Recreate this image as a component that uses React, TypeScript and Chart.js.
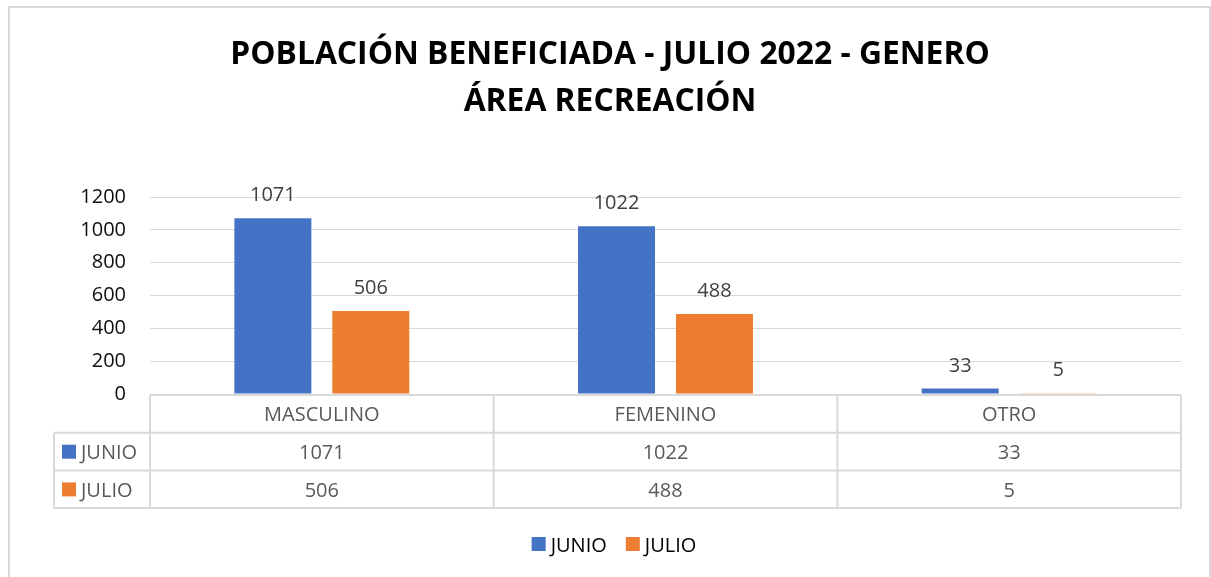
import React, { useEffect, useRef } from "react";
import { Chart, registerables } from "chart.js";

Chart.register(...registerables);

const categories = ["MASCULINO", "FEMENINO", "OTRO"];
const seriesNames = ["JUNIO", "JULIO"];
const junioValues = [1071, 1022, 33];
const julioValues = [506, 488, 5];
const seriesColors = ["#4472C4", "#ED7D31"];
const titleLines = ["POBLACIÓN BENEFICIADA - JULIO 2022 - GENERO", "ÁREA RECREACIÓN"];
const yMin = 0;
const yMax = 1200;
const yStep = 200;

const FONT = "'Open Sans', 'DejaVu Sans', sans-serif";
const W = 1211;
const H = 577;

const customDraw = {
  id: "customDraw",
  beforeDraw(chart: any) {
    const ctx = chart.ctx;
    ctx.save();
    ctx.fillStyle = "#ffffff";
    ctx.fillRect(0, 0, chart.width, chart.height);
    ctx.strokeStyle = "#d9d9d9";
    ctx.lineWidth = 2;
    ctx.strokeRect(9, 7, 1201, 600);
    ctx.restore();
  },
  afterDatasetsDraw(chart: any) {
    const ctx = chart.ctx;
    const area = chart.chartArea;
    const xScale = chart.scales.x;
    ctx.save();

    // Title
    ctx.fillStyle = "#000000";
    ctx.font = `bold 31.8px ${FONT}`;
    ctx.textAlign = "center";
    ctx.textBaseline = "alphabetic";
    ctx.fillText(titleLines[0], 610, 64);
    ctx.fillText(titleLines[1], 610, 111);

    // Data labels
    ctx.font = `20px ${FONT}`;
    ctx.fillStyle = "#404040";
    chart.data.datasets.forEach((ds: any, di: number) => {
      const meta = chart.getDatasetMeta(di);
      meta.data.forEach((bar: any, j: number) => {
        ctx.fillText(String(ds.data[j]), bar.x, bar.y - 17);
      });
    });

    // Data table
    const n = categories.length;
    const catW = (area.right - area.left) / n;
    const top = area.bottom + 1;
    const rowH = 37.7;
    const leftCol = 54;
    const bottom = top + rowH * 3;
    ctx.strokeStyle = "#d9d9d9";
    ctx.lineWidth = 2;
    ctx.beginPath();
    ctx.moveTo(area.left, top);
    ctx.lineTo(area.right, top);
    for (let r = 1; r <= 3; r++) {
      ctx.moveTo(leftCol, top + rowH * r);
      ctx.lineTo(area.right, top + rowH * r);
    }
    ctx.moveTo(leftCol, top + rowH);
    ctx.lineTo(leftCol, bottom);
    for (let c = 0; c <= n; c++) {
      const x = area.left + catW * c;
      ctx.moveTo(x, top);
      ctx.lineTo(x, bottom);
    }
    ctx.stroke();

    ctx.fillStyle = "#595959";
    ctx.font = `20px ${FONT}`;
    ctx.textAlign = "center";
    categories.forEach((cat, i) => {
      const cx = xScale.getPixelForValue(i);
      ctx.fillText(cat, cx, top + 26);
    });
    chart.data.datasets.forEach((ds: any, di: number) => {
      const baseY = top + rowH * (di + 1) + 26.5;
      ds.data.forEach((v: number, i: number) => {
        const cx = xScale.getPixelForValue(i);
        ctx.fillStyle = "#595959";
        ctx.textAlign = "center";
        ctx.fillText(String(v), cx, baseY);
      });
      ctx.fillStyle = ds.backgroundColor;
      ctx.fillRect(62, top + rowH * (di + 1) + 12, 14, 14);
      ctx.fillStyle = "#595959";
      ctx.textAlign = "left";
      ctx.fillText(ds.label, 81, baseY);
    });

    // Legend
    ctx.font = `20px ${FONT}`;
    const box = 14;
    const gap = 5;
    const spacing = 19;
    const widths = chart.data.datasets.map((ds: any) => ctx.measureText(ds.label).width);
    const total = widths.reduce((a: number, w: number) => a + box + gap + w, 0) + spacing * (widths.length - 1);
    let lx = 614 - total / 2;
    const ly = 544;
    chart.data.datasets.forEach((ds: any, di: number) => {
      ctx.fillStyle = ds.backgroundColor;
      ctx.fillRect(lx, ly - 7, box, box);
      ctx.fillStyle = "#000000";
      ctx.textAlign = "left";
      ctx.textBaseline = "alphabetic";
      ctx.fillText(ds.label, lx + box + gap, ly + 7.5);
      lx += box + gap + widths[di] + spacing;
    });

    ctx.restore();
  },
};

export default function App() {
  const canvasRef = useRef<HTMLCanvasElement | null>(null);

  useEffect(() => {
    if (!canvasRef.current) return;
    const chart = new Chart(canvasRef.current, {
      type: "bar",
      data: {
        labels: categories,
        datasets: [
          {
            label: seriesNames[0],
            data: junioValues,
            backgroundColor: seriesColors[0],
            barPercentage: 0.786,
            categoryPercentage: 0.57,
          },
          {
            label: seriesNames[1],
            data: julioValues,
            backgroundColor: seriesColors[1],
            barPercentage: 0.786,
            categoryPercentage: 0.57,
          },
        ],
      },
      options: {
        responsive: false,
        animation: false,
        devicePixelRatio: 1,
        layout: { padding: { top: 197, bottom: 183, left: 0, right: 30 } },
        plugins: {
          legend: { display: false },
          tooltip: { enabled: false },
          title: { display: false },
        },
        scales: {
          x: { type: "category", display: false, offset: true },
          y: {
            min: yMin,
            max: yMax,
            ticks: {
              stepSize: yStep,
              padding: 24,
              color: "#0d0d0d",
              font: { family: FONT, size: 20 },
              callback: (value: any) => String(value),
            },
            grid: { color: "#d9d9d9", lineWidth: 1, drawTicks: false },
            border: { display: false },
            afterFit: (scale: any) => {
              scale.width = 150;
            },
          },
        },
      },
      plugins: [customDraw],
    });
    return () => chart.destroy();
  }, []);

  return (
    <div style={{ position: "absolute", left: 0, top: 0, width: W, height: H, background: "#fff" }}>
      <canvas ref={canvasRef} width={W} height={H} style={{ display: "block" }} />
    </div>
  );
}
